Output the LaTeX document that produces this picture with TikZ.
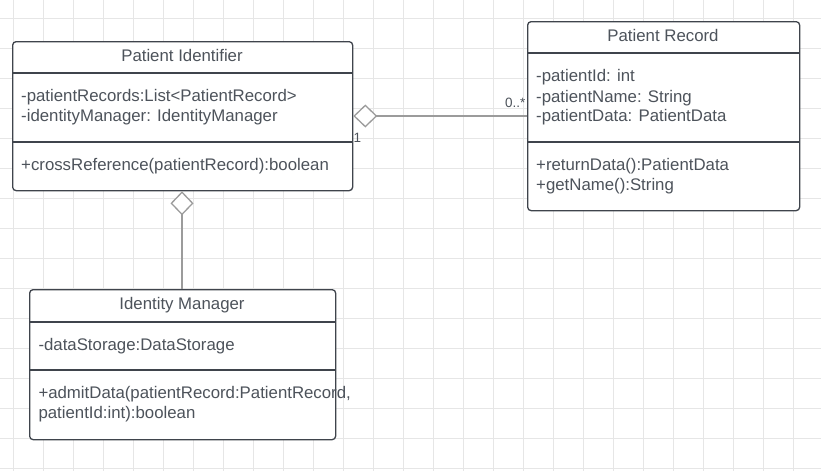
\documentclass[tikz,border=0pt]{standalone}
\usepackage{fontspec}
\setmainfont{Liberation Sans}
\usetikzlibrary{arrows.meta}
\definecolor{gridc}{HTML}{E6E6E6}
\definecolor{boxc}{HTML}{3F444C}
\definecolor{txtc}{HTML}{4D535B}
\definecolor{connc}{HTML}{9B9B9B}
\tikzset{
  umlbox/.style={draw=boxc, line width=1.3pt, rounded corners=3.5pt, fill=white, inner sep=0pt, anchor=north west},
  sepline/.style={draw=boxc, line width=1.3pt},
  txt/.style={text=txtc, inner sep=0pt, anchor=base west, font=\fontsize{16.8}{20}\selectfont},
  ttl/.style={text=txtc, inner sep=0pt, anchor=base, font=\fontsize{16.8}{20}\selectfont},
  mult/.style={text=txtc, inner sep=0pt, anchor=base west, font=\fontsize{13.5}{15}\selectfont},
  aggr/.style={draw=connc, line width=1.3pt, -{Diamond[fill=white, length=24pt, width=23pt]}},
}
\begin{document}
\begin{tikzpicture}[x=1pt,y=-1pt]
\fill[white] (0,0) rectangle (821,471);
\useasboundingbox (0,0) rectangle (821,471);
% grid
\foreach \x in {13,43,...,793} \draw[gridc, line width=0.8pt] (\x,0) -- (\x,471);
\foreach \y in {18,48,...,468} \draw[gridc, line width=0.8pt] (0,\y) -- (821,\y);

% Patient Identifier
\node[umlbox, minimum width=340pt, minimum height=149pt] (pi) at (12,41) {};
\draw[sepline] (pi.west |- 0,73) -- (pi.east |- 0,73);
\draw[sepline] (pi.west |- 0,142) -- (pi.east |- 0,142);
\node[ttl] (pit) at (182,61.5) {Patient Identifier};
\node[txt] (pia1) at (21,101.7) {-patientRecords:List<PatientRecord>};
\node[txt] (pia2) at (21,121.7) {-identityManager: IdentityManager};
\node[txt] (pim1) at (21,170) {+crossReference(patientRecord):boolean};

% Patient Record
\node[umlbox, minimum width=272pt, minimum height=189pt] (pr) at (527,21) {};
\draw[sepline] (pr.west |- 0,53) -- (pr.east |- 0,53);
\draw[sepline] (pr.west |- 0,142) -- (pr.east |- 0,142);
\node[ttl] (prt) at (663,41) {Patient Record};
\node[txt] (pra1) at (536,81.7) {-patientId: int};
\node[txt] (pra2) at (536,102.3) {-patientName: String};
\node[txt] (pra3) at (536,121.7) {-patientData: PatientData};
\node[txt] (prm1) at (536,170.3) {+returnData():PatientData};
\node[txt] (prm2) at (536,190.3) {+getName():String};

% Identity Manager
\node[umlbox, minimum width=306pt, minimum height=150pt] (im) at (29,289) {};
\draw[sepline] (im.west |- 0,322) -- (im.east |- 0,322);
\draw[sepline] (im.west |- 0,370) -- (im.east |- 0,370);
\node[ttl] (imt) at (182,309.3) {Identity Manager};
\node[txt] (ima1) at (38.3,350) {-dataStorage:DataStorage};
\node[txt] (imm1) at (38.3,398.3) {+admitData(patientRecord:PatientRecord,};
\node[txt] (imm2) at (38.3,418.3) {patientId:int):boolean};

% connectors
\coordinate (prj) at (pr.west |- 0,116);
\coordinate (pij) at (pi.east |- 0,116);
\draw[aggr] (prj) -- (pij);
\node[mult] (m1) at (505,107.3) {0..*};
\node[mult] (m2) at (353.5,142.3) {1};

\coordinate (imj) at (im.north -| 182,0);
\coordinate (pib) at (pi.south -| 182,0);
\draw[aggr] (imj) -- (pib);
\end{tikzpicture}
\end{document}
